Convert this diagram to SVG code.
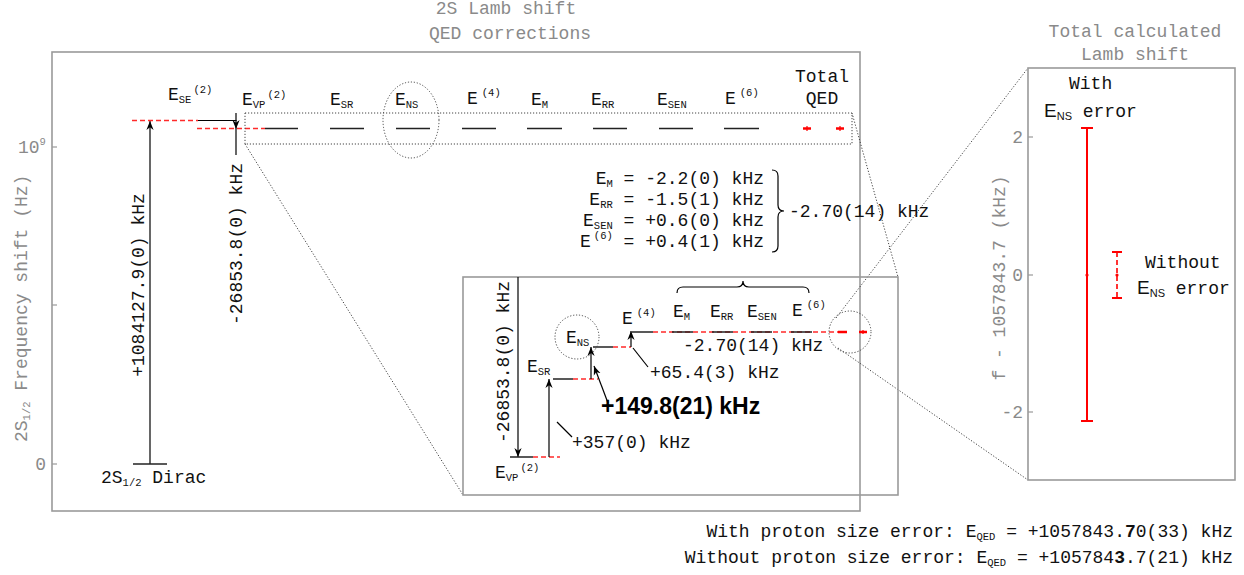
<svg xmlns="http://www.w3.org/2000/svg" width="1244" height="575" viewBox="0 0 1244 575">
<defs>
<style>
.t{font-family:"Liberation Mono","Courier New",monospace;font-size:18px;fill:#111}
.g{fill:#8a8a8a}
.s{font-size:10.5px}
.sans{font-family:"Liberation Sans",Arial,sans-serif}
.box{fill:none;stroke:#9a9a9a;stroke-width:1.6}
.dot{fill:none;stroke:#444;stroke-width:1;stroke-dasharray:1.2 1.8}
.lvl{stroke:#222;stroke-width:1.5}
.red{stroke:#ff2a2a;stroke-width:1.5;stroke-dasharray:5 3;fill:none}
.arr{stroke:#000;stroke-width:1.2;fill:none;marker-end:url(#ah)}
.ln{stroke:#000;stroke-width:1.2;fill:none}
.tick{stroke:#9a9a9a;stroke-width:1.2}
.rb{stroke:#ff0000;stroke-width:2;fill:none}
</style>
<marker id="ah" viewBox="0 0 10 10" refX="10" refY="5" markerWidth="9" markerHeight="9" markerUnits="userSpaceOnUse" orient="auto"><path d="M0,1 L10,5 L0,9 L3,5 z" fill="#000"/></marker>
</defs>
<rect width="1244" height="575" fill="#fff"/>

<g id="titles">
<text x="506" y="14" text-anchor="middle" class="t g">2S Lamb shift</text>
<text x="510" y="39" text-anchor="middle" class="t g">QED corrections</text>
<text x="1135" y="37" text-anchor="middle" class="t g">Total calculated</text>
<text x="1135" y="60" text-anchor="middle" class="t g">Lamb shift</text>
</g>

<g id="main-axes">
<rect class="box" x="52" y="52" width="808" height="459"/>
<line class="tick" x1="52" y1="147" x2="57" y2="147"/>
<line class="tick" x1="52" y1="305" x2="57" y2="305"/>
<line class="tick" x1="52" y1="464" x2="57" y2="464"/>
<text class="t g" x="18" y="153">10<tspan class="s" dy="-8">9</tspan></text>
<text class="t g" x="46" y="470" text-anchor="end">0</text>
<text class="t g" transform="translate(27,442) rotate(-90)">2S<tspan class="s" dy="3">1/2</tspan><tspan dy="-3"> Frequency shift (Hz)</tspan></text>
</g>

<g id="connectors">
<line class="dot" x1="245" y1="144" x2="463" y2="495"/>
<line class="dot" x1="852" y1="113" x2="898" y2="277"/>
<line class="dot" x1="836" y1="318" x2="1028" y2="68"/>
<line class="dot" x1="838" y1="348" x2="1028" y2="480"/>
<line class="arr" x1="150" y1="464" x2="150" y2="121"/>
<line class="ln" x1="236" y1="113" x2="236" y2="121"/>
<line class="arr" x1="236" y1="120" x2="236" y2="129"/>
<line class="ln" x1="236" y1="129" x2="236" y2="155"/>
</g>

<g id="dirac">
<line class="lvl" x1="133" y1="464" x2="167" y2="464"/>
<text class="t" x="101" y="483">2S<tspan class="s" dy="3">1/2</tspan><tspan dy="-3"> Dirac</tspan></text>
<text class="t" text-anchor="middle" transform="translate(144,285) rotate(-90)">+1084127.9(0) kHz</text>
</g>

<g id="level-ese">
<line class="red" x1="132" y1="120.5" x2="198" y2="120.5"/>
<line class="ln" x1="198" y1="120.5" x2="236" y2="120.5"/>
<text class="t" x="168" y="100">E<tspan class="s" dy="3">SE</tspan><tspan class="s" dx="2" dy="-10">(2)</tspan></text>
</g>

<g id="level-evp">
<line class="red" x1="197" y1="128.5" x2="265" y2="128.5"/>
<line class="lvl" x1="265" y1="128.5" x2="298" y2="128.5"/>
<text class="t" x="242" y="105">E<tspan class="s" dy="3">VP</tspan><tspan class="s" dx="2" dy="-10">(2)</tspan></text>
<text class="t" text-anchor="middle" transform="translate(242,244) rotate(-90)">-26853.8(0) kHz</text>
</g>

<g id="zoom-box"><rect class="dot" x="245" y="113" width="607" height="31"/></g>

<g id="level-esr"><line class="lvl" x1="330" y1="128.5" x2="364" y2="128.5"/><text class="t" x="330" y="105">E<tspan class="s" dy="3">SR</tspan></text></g>
<g id="level-ens"><line class="lvl" x1="396" y1="128.5" x2="430" y2="128.5"/><text class="t" x="395" y="105">E<tspan class="s" dy="3">NS</tspan></text><ellipse class="dot" cx="411" cy="120" rx="28" ry="38"/></g>
<g id="level-e4"><line class="lvl" x1="462" y1="128.5" x2="496" y2="128.5"/><text class="t" x="467" y="104">E<tspan class="s" dx="4" dy="-8">(4)</tspan></text></g>
<g id="level-em"><line class="lvl" x1="527" y1="128.5" x2="562" y2="128.5"/><text class="t" x="531" y="105">E<tspan class="s" dy="3">M</tspan></text></g>
<g id="level-err"><line class="lvl" x1="593" y1="128.5" x2="627" y2="128.5"/><text class="t" x="591" y="105">E<tspan class="s" dy="3">RR</tspan></text></g>
<g id="level-esen"><line class="lvl" x1="659" y1="128.5" x2="693" y2="128.5"/><text class="t" x="657" y="105">E<tspan class="s" dy="3">SEN</tspan></text></g>
<g id="level-e6"><line class="lvl" x1="724" y1="128.5" x2="759" y2="128.5"/><text class="t" x="725" y="104">E<tspan class="s" dx="4" dy="-8">(6)</tspan></text></g>
<g id="level-total">
<text class="t" x="822" y="82" text-anchor="middle">Total</text>
<text class="t" x="822" y="104" text-anchor="middle">QED</text>
<line stroke="#f00" stroke-width="2.5" x1="803" y1="128.5" x2="811" y2="128.5"/><line stroke="#f00" stroke-width="1.2" x1="807" y1="126" x2="807" y2="131"/>
<line stroke="#f00" stroke-width="2.5" x1="836" y1="128.5" x2="844" y2="128.5"/><line stroke="#f00" stroke-width="1.2" x1="840" y1="126" x2="840" y2="131"/>
</g>

<g id="sum-block">
<text class="t" x="764" y="184" text-anchor="end">E<tspan class="s" dy="3">M</tspan><tspan dy="-3"> = -2.2(0) kHz</tspan></text>
<text class="t" x="764" y="205" text-anchor="end">E<tspan class="s" dy="3">RR</tspan><tspan dy="-3"> = -1.5(1) kHz</tspan></text>
<text class="t" x="764" y="226" text-anchor="end">E<tspan class="s" dy="3">SEN</tspan><tspan dy="-3"> = +0.6(0) kHz</tspan></text>
<text class="t" x="764" y="247" text-anchor="end">E<tspan class="s" dx="3" dy="-8">(6)</tspan><tspan dy="8"> = +0.4(1) kHz</tspan></text>
<path class="ln" d="M772,170 q6,0 6,6 v29 q0,6 6,6 q-6,0 -6,6 v29 q0,6 -6,6"/>
<text class="t" x="789" y="217">-2.70(14) kHz</text>
</g>

<g id="inset">
<rect class="box" x="463" y="277" width="435" height="218"/>
<line class="arr" x1="518" y1="277" x2="518" y2="457"/>
<text class="t" text-anchor="middle" transform="translate(509,362) rotate(-90)">-26853.8(0) kHz</text>
<line class="lvl" x1="510" y1="457" x2="533" y2="457"/>
<line class="red" x1="533" y1="457" x2="560" y2="457"/>
<text class="t" x="495" y="478">E<tspan class="s" dy="3">VP</tspan><tspan class="s" dx="2" dy="-10">(2)</tspan></text>

<line class="arr" x1="549" y1="457" x2="549" y2="379"/>
<line class="lvl" x1="553" y1="379" x2="573" y2="379"/>
<line class="red" x1="573" y1="379" x2="598" y2="379"/>
<text class="t" x="527" y="372">E<tspan class="s" dy="3">SR</tspan></text>
<line class="ln" x1="557" y1="422" x2="572" y2="437"/>
<text class="t" x="572" y="448">+357(0) kHz</text>

<line class="arr" x1="591" y1="379" x2="591" y2="347"/>
<line class="lvl" x1="593" y1="347" x2="613" y2="347"/>
<line class="red" x1="613" y1="347" x2="631" y2="347"/>
<text class="t" x="566" y="343">E<tspan class="s" dy="3">NS</tspan></text>
<circle class="dot" cx="577" cy="337" r="22"/>
<line class="arr" x1="608" y1="403" x2="594" y2="366"/>
<text class="sans" x="601" y="414" font-size="23" font-weight="bold" fill="#000">+149.8(21) kHz</text>

<line class="arr" x1="631" y1="347" x2="631" y2="331"/>
<line class="red" x1="653" y1="332" x2="838" y2="332"/>
<line class="lvl" x1="632" y1="332" x2="653" y2="332"/>
<line class="lvl" x1="672" y1="332" x2="693" y2="332"/>
<line class="lvl" x1="712" y1="332" x2="733" y2="332"/>
<line class="lvl" x1="751" y1="332" x2="772" y2="332"/>
<line class="lvl" x1="791" y1="332" x2="812" y2="332"/>
<text class="t" x="622" y="324">E<tspan class="s" dx="4" dy="-8">(4)</tspan></text>
<line class="ln" x1="633" y1="348" x2="648" y2="367"/>
<text class="t" x="650" y="378">+65.4(3) kHz</text>
<path class="ln" d="M677,293 q0,-6 6,-6 h54 q6,0 6,-6 q0,6 6,6 h54 q6,0 6,6"/>
<text class="t" x="673" y="317">E<tspan class="s" dy="3">M</tspan></text>
<text class="t" x="710" y="317">E<tspan class="s" dy="3">RR</tspan></text>
<text class="t" x="747" y="317">E<tspan class="s" dy="3">SEN</tspan></text>
<text class="t" x="792" y="316">E<tspan class="s" dx="4" dy="-8">(6)</tspan></text>
<text class="t" x="683" y="351">-2.70(14) kHz</text>
<line stroke="#f00" stroke-width="2.5" x1="838" y1="332" x2="847" y2="332"/>
<line stroke="#f00" stroke-width="2.5" x1="859" y1="332" x2="867" y2="332"/>
<line stroke="#f00" stroke-width="1.2" x1="863" y1="330" x2="863" y2="334"/>
<circle class="dot" cx="850" cy="332" r="21"/>
</g>

<g id="total-panel">
<rect class="box" x="1028" y="68" width="207" height="412"/>
<line class="tick" x1="1028" y1="137" x2="1033" y2="137"/>
<line class="tick" x1="1028" y1="275" x2="1033" y2="275"/>
<line class="tick" x1="1028" y1="412" x2="1033" y2="412"/>
<text class="t g" x="1023" y="143" text-anchor="end">2</text>
<text class="t g" x="1023" y="281" text-anchor="end">0</text>
<text class="t g" x="1023" y="418" text-anchor="end">-2</text>
<text class="t g" text-anchor="middle" transform="translate(1005,278) rotate(-90)">f - 1057843.7 (kHz)</text>
<line class="rb" x1="1087" y1="128" x2="1087" y2="421"/>
<line class="rb" x1="1081" y1="128" x2="1093" y2="128"/>
<line class="rb" x1="1081" y1="421" x2="1093" y2="421"/>
<circle cx="1087" cy="275" r="1.6" fill="#f00"/>
<line stroke="#f00" stroke-width="1.6" stroke-dasharray="5 3" x1="1117" y1="252" x2="1117" y2="298"/>
<line class="rb" x1="1112" y1="252" x2="1122" y2="252"/>
<line class="rb" x1="1112" y1="298" x2="1122" y2="298"/>
<circle cx="1117" cy="275" r="1.6" fill="#f00"/>
<text class="t" x="1069" y="89">With</text>
<text class="t" x="1044" y="117"><tspan class="sans" font-size="19">E</tspan><tspan class="sans" font-size="11" dy="3">NS</tspan><tspan dy="-3"> error</tspan></text>
<text class="t" x="1145" y="268">Without</text>
<text class="t" x="1137" y="294"><tspan class="sans" font-size="19">E</tspan><tspan class="sans" font-size="11" dy="3">NS</tspan><tspan dy="-3"> error</tspan></text>
</g>

<g id="results">
<text class="t" x="1233" y="537" text-anchor="end">With proton size error: E<tspan class="s" dy="3">QED</tspan><tspan dy="-3"> = +1057843.</tspan><tspan font-weight="bold">7</tspan>0(33) kHz</text>
<text class="t" x="1233" y="563" text-anchor="end">Without proton size error: E<tspan class="s" dy="3">QED</tspan><tspan dy="-3"> = +105784</tspan><tspan font-weight="bold">3</tspan>.7(21) kHz</text>
</g>
</svg>
